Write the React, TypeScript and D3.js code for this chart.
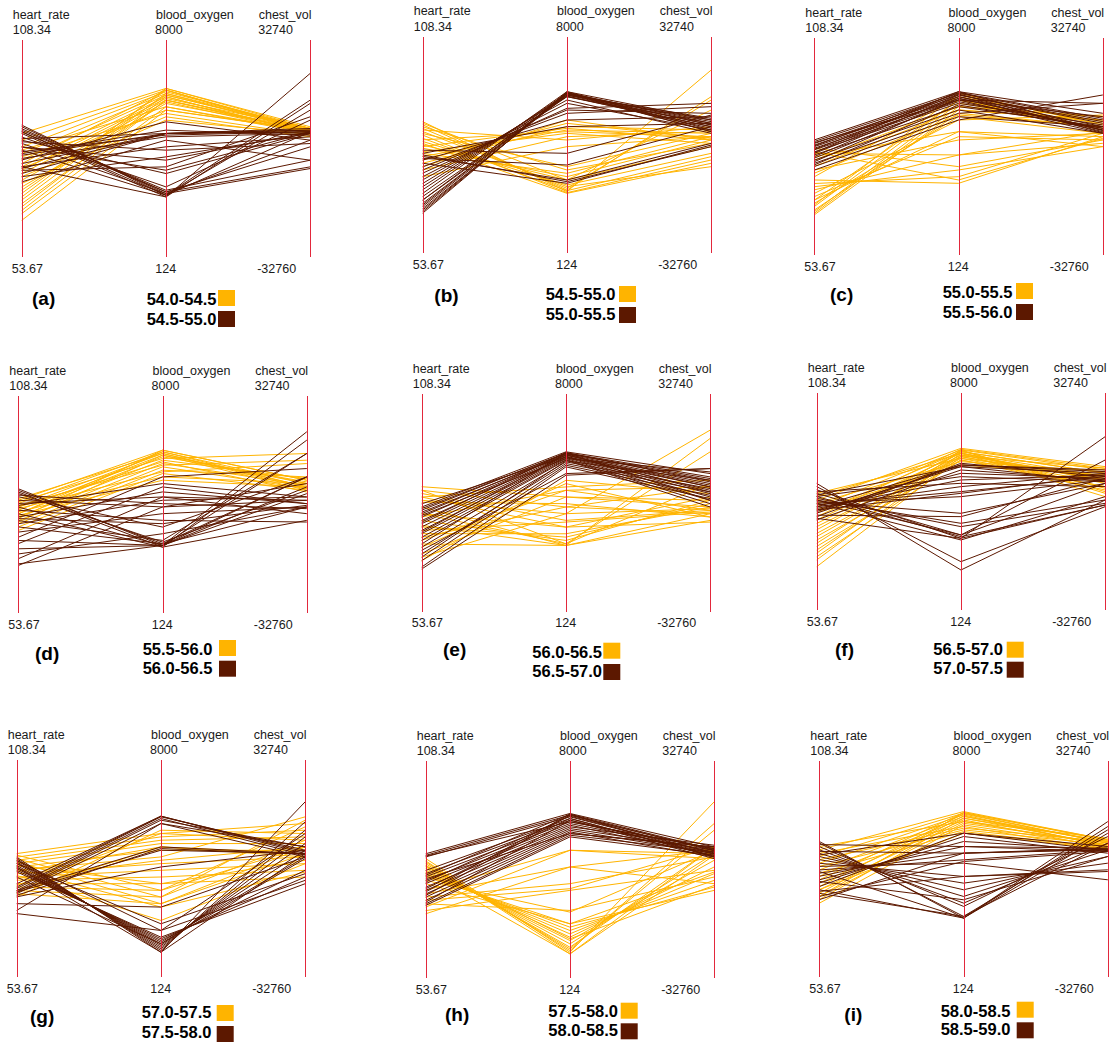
import React from 'react';
import * as d3 from 'd3';

// ---------- data ----------
const dimensions = ['heart_rate', 'blood_oxygen', 'chest_vol'];
const dimMax = [108.34, 8000, 32740];
const dimMin = [53.67, 124, -32760];
const maxLabels = ['108.34', '8000', '32740'];
const minLabels = ['53.67', '124', '-32760'];
const panelLetters = ['a', 'b', 'c', 'd', 'e', 'f', 'g', 'h', 'i'];
const rangeLabels = [
  ['54.0-54.5', '54.5-55.0'],
  ['54.5-55.0', '55.0-55.5'],
  ['55.0-55.5', '55.5-56.0'],
  ['55.5-56.0', '56.0-56.5'],
  ['56.0-56.5', '56.5-57.0'],
  ['56.5-57.0', '57.0-57.5'],
  ['57.0-57.5', '57.5-58.0'],
  ['57.5-58.0', '58.0-58.5'],
  ['58.0-58.5', '58.5-59.0'],
];

// each record: [heart_rate, blood_oxygen, chest_vol]
const panelA_first = [
  [84.8, 6243, 6036], [83.1, 6182, 5532], [81.4, 6122, 6036], [79.7, 6061, 5028], [78.1, 6001, 5532],
  [76.4, 5940, 4524], [75.5, 5879, 6036], [74.7, 5819, 5028], [73.0, 5758, 4524], [71.3, 5698, 5532],
  [69.7, 6182, 5028], [68.0, 6061, 6036], [66.3, 5940, 4524], [64.6, 5577, 5028], [62.9, 5455, 5532],
  [78.9, 5334, 4020], [73.9, 5213, 3516], [68.8, 6243, 6539], [67.1, 5819, 5532], [80.6, 5577, 4524],
  [77.2, 6182, 5028], [70.5, 6001, 6036], [65.4, 5819, 4726], [76.0, 5455, 5330], [72.2, 5092, 4322],
];
const panelA_second = [
  [86.9, 2366, 5028], [86.5, 2426, 2509], [86.0, 2487, 494], [85.6, 2547, -3538], [85.2, 2366, 14601],
  [84.8, 2305, 22663], [83.9, 2669, 8555], [83.1, 3153, 4524], [82.3, 2426, -6057], [81.4, 3638, 5028],
  [80.2, 4547, 5028], [79.3, 4607, 5532], [78.5, 4486, 4524], [78.1, 5031, 2509], [77.2, 4607, 5532],
  [76.4, 4123, 3516], [75.5, 3396, 9563], [74.7, 4607, 5028], [72.6, 4364, -3538], [76.4, 2305, 13593],
  [83.5, 4607, 6036], [82.7, 4001, 1493], [81.4, 3274, 5028], [79.7, 4728, 4020], [85.2, 2487, -5553],
  [73.9, 3759, 4524], [76.0, 4607, 5028], [80.6, 2366, 11578],
];
const panelB_first = [
  [86.9, 2366, 22663], [86.1, 2426, 14602], [85.2, 2487, 13594], [84.4, 2548, -6560], [83.5, 2329, -4545],
  [82.7, 2402, -3537], [81.9, 2608, -2529], [81.0, 2790, -514], [80.2, 2911, 1502], [78.9, 3032, 2509],
  [85.6, 3153, 494], [83.9, 3275, 3517], [82.3, 4547, 2509], [80.6, 4668, 1502], [78.1, 4607, 3517],
  [76.4, 4729, 4525], [74.7, 4365, 4021], [73.0, 4002, 2509], [84.8, 4244, 5532], [79.3, 4486, 494],
  [77.2, 4850, 2006], [86.5, 2790, 10571], [81.4, 2305, -5552], [75.5, 4971, 1502],
];
const panelB_second = [
  [63.8, 6001, 7548], [64.2, 5965, 6540], [64.6, 5940, 7044], [65.5, 5916, 6036], [66.3, 5880, 5532],
  [67.1, 5843, 5029], [68.0, 5819, 6540], [68.8, 6001, 4525], [69.7, 5940, 4021], [70.5, 5880, 7548],
  [71.3, 5819, 5532], [72.2, 5698, 3517], [73.9, 5395, 12586], [74.7, 5334, 9563], [75.5, 5213, 11579],
  [78.1, 2790, 494], [78.5, 2729, -514], [77.6, 3335, 5532], [77.2, 4971, 8556], [76.4, 2669, -10],
  [73.0, 5577, 4525], [67.1, 5965, 4021], [65.0, 5880, 8052], [78.9, 4729, 6540], [79.7, 3759, 9059],
  [65.9, 5940, 6036],
];
const panelC_first = [
  [63.8, 5394, 8052], [64.2, 5516, 9059], [64.6, 5637, 7044], [65.0, 5273, 6036], [65.9, 5758, 5029],
  [66.7, 5152, 4021], [67.5, 4607, 3013], [68.4, 4425, 2006], [69.2, 5031, 9563], [70.1, 3759, 998],
  [70.9, 3213, -10], [71.7, 2971, 4021], [72.6, 2729, 3013], [74.3, 5213, 6036], [76.0, 5394, 8052],
  [77.6, 5516, 9059], [79.3, 3759, 4525], [80.6, 3335, 2006], [78.5, 4607, -10], [73.4, 5879, 7548],
  [66.3, 6000, 6540], [67.5, 5758, 5533], [75.1, 4304, 4021], [79.7, 2850, 2510],
];
const panelC_second = [
  [82.7, 6061, 10067], [82.3, 6000, 8052], [81.8, 5940, 7044], [81.4, 5879, 6036], [81.0, 5818, 5029],
  [80.6, 5758, 4021], [80.2, 5697, 5533], [79.7, 5637, 6540], [79.3, 5879, 4525], [78.9, 5516, 6036],
  [78.5, 5940, 7548], [78.1, 5758, 9059], [77.6, 5394, 4021], [77.2, 5818, 5029], [76.8, 5273, 13090],
  [76.4, 5576, 5533], [75.1, 5031, 15610], [81.2, 6024, 8556], [80.3, 5976, 4223], [76.0, 5152, 6036],
  [82.0, 5758, 13090], [79.5, 6061, 4827],
];
const panelD_first = [
  [82.1, 6037, 7346], [81.3, 5977, 6338], [80.4, 5916, 5331], [79.6, 5856, 4323], [78.7, 5795, 6842],
  [77.9, 5674, 7849], [77.0, 5553, 5835], [76.2, 5432, 4826], [75.4, 5310, 8353], [74.5, 5189, 4323],
  [81.7, 5734, 15407], [80.8, 5492, 13392], [80.0, 5250, 12384], [79.2, 5068, 6338], [78.3, 4947, 5331],
  [82.5, 5916, 4826], [77.5, 6037, 7346], [76.6, 5856, 6338], [80.4, 5613, 3819], [78.7, 5977, 5331],
];
const panelD_second = [
  [85.0, 2584, 5331], [84.6, 2644, -716], [84.2, 2523, -4747], [83.8, 2705, 4323], [83.0, 3250, 8353],
  [82.1, 3978, 1299], [81.3, 4341, -2731], [80.4, 2584, 21957], [79.6, 3493, -5251], [78.7, 2523, 19438],
  [77.9, 4523, 292], [77.0, 2766, 15407], [76.2, 4220, 2307], [75.4, 2644, 8353], [74.1, 3735, -716],
  [72.8, 5068, 10873], [71.2, 4705, 292], [69.9, 2584, 3315], [68.6, 3008, -716], [67.4, 4341, 1299],
  [66.1, 2584, 15407], [65.7, 3978, 6338], [77.5, 3372, -212], [80.8, 4826, 2307], [83.4, 4099, -1220],
  [72.0, 2584, 8353],
];
const panelE_first = [
  [85.1, 4280, -1219], [84.2, 3917, -3234], [83.4, 3432, -2227], [82.5, 3189, -5754], [81.7, 3674, 21958],
  [80.0, 2523, 19439], [78.3, 2584, 15408], [76.6, 2705, 796], [75.0, 2826, -212], [73.3, 2947, -1219],
  [71.6, 4522, -2227], [69.9, 4765, -4242], [68.2, 4280, 796], [66.5, 4886, 2812], [84.2, 2584, 5835],
  [82.5, 4644, 6843], [75.4, 2523, -3234], [72.4, 3917, 4827], [78.3, 3189, 1804], [67.4, 3674, -1723],
  [81.2, 4038, -4242], [70.7, 2523, -5250], [77.5, 4522, 4827], [74.1, 3371, -2731],
];
const panelE_second = [
  [80.0, 5916, 8858], [79.2, 5879, 7850], [78.3, 5855, 6843], [77.5, 5831, 5835], [76.6, 5795, 4827],
  [75.8, 5758, 3819], [75.0, 5734, 2812], [74.1, 5710, 1804], [73.3, 5673, 796], [72.4, 5637, -212],
  [71.6, 5613, -1219], [69.9, 5552, 4323], [68.2, 5492, 3316], [66.5, 5431, 2308], [64.9, 5371, 1300],
  [64.4, 5068, 10370], [69.1, 5128, 10370], [79.6, 5855, 7346], [78.7, 5795, 5331], [76.2, 5892, 6339],
  [73.7, 5819, 3316], [80.8, 5734, 4827], [67.4, 5589, 6843], [77.9, 5673, 9362], [70.7, 5879, 796],
];
const panelF_first = [
  [81.4, 6001, 10570], [79.7, 5940, 9563], [78.1, 5880, 8555], [76.4, 5819, 7547], [74.7, 5759, 6540],
  [73.0, 5698, 5532], [71.3, 5637, 4524], [69.7, 5577, 3517], [68.0, 5940, 2509], [66.3, 5819, 1501],
  [64.6, 5698, 6540], [80.6, 5516, 9059], [78.9, 5395, 8051], [77.2, 5965, 10067], [75.5, 5843, 4020],
  [73.9, 5916, 3013], [72.2, 5759, 7044], [70.5, 5880, 8555], [68.8, 5722, 10067], [82.3, 5819, 6036],
  [67.1, 5577, 4524], [83.1, 5637, 7547],
];
const panelF_second = [
  [85.6, 1578, 494], [84.8, 1881, -1522], [84.0, 2729, 19640], [83.1, 2851, 12586], [82.3, 2790, -1018],
  [81.85, 3154, -514], [81.4, 3275, 494], [81.0, 3638, 5532], [80.6, 4244, 6540], [80.2, 4426, 7547],
  [79.7, 4608, 8555], [79.3, 4850, 8051], [78.9, 5092, 7044], [78.5, 5335, 6036], [78.1, 5395, 9563],
  [77.2, 5456, 7547], [76.4, 5213, 6540], [82.7, 5335, 8555], [83.5, 4729, 4524], [81.4, 2851, 5532],
  [79.7, 5395, 9059], [80.6, 2669, 1501], [82.3, 4971, 6036], [76.8, 2729, -1018], [78.9, 4365, 8051],
  [77.6, 3517, 7044],
];
const panelG_first = [
  [84.8, 5335, 13594], [83.9, 5214, 11579], [83.1, 5092, 9563], [82.3, 4971, 7548], [81.4, 4729, 5532],
  [80.6, 4487, 15609], [79.7, 4244, 3517], [78.9, 4002, 1502], [78.1, 3759, -514], [77.2, 3517, -2529],
  [76.4, 3275, 6540], [75.5, 3032, 8556], [74.7, 2790, 4525], [73.9, 5456, 10571], [84.4, 3275, 12586],
  [83.5, 3032, 14602], [82.7, 2790, 6540], [81.8, 3517, 2509], [80.2, 4850, 4525], [78.5, 4365, 6540],
  [76.8, 5335, 8556], [75.1, 4850, 3517], [81.0, 2669, -1018], [79.3, 2184, 1502],
];
const panelG_second = [
  [83.9, 1033, 20144], [83.5, 1094, 14098], [83.1, 1154, 11579], [82.7, 1215, 9563], [82.3, 1276, 7548],
  [81.8, 1336, 5532], [81.4, 1397, 3517], [81.0, 1457, -514], [80.6, 1518, -2529], [80.2, 1578, -4545],
  [83.1, 1821, -3537], [82.3, 2063, -1521], [76.4, 5965, 4525], [76.0, 5941, 5532], [75.5, 5880, 4021],
  [75.1, 5819, 6540], [74.7, 5698, 3517], [75.5, 4850, 4525], [75.1, 4729, 4525], [73.9, 4123, 5532],
  [72.2, 2669, 3517], [70.5, 5698, 6540], [69.7, 1821, 10571], [77.2, 5965, 5029], [74.3, 4789, 4323],
  [78.9, 1336, 3013], [81.4, 1033, 4525],
];
const panelH_first = [
  [83.8, 1069, 20446], [82.9, 1130, 13896], [82.5, 1190, 11881], [82.1, 1251, 6842], [81.7, 1372, 4827],
  [81.3, 1493, 2811], [80.8, 1614, 796], [80.4, 1735, -1219], [80.0, 1857, -3235], [79.6, 1978, -5250],
  [79.2, 2099, -6258], [78.3, 2523, 5834], [75.8, 4765, 4827], [74.9, 4159, 5834], [74.1, 3553, 3819],
  [73.3, 3371, 6842], [72.4, 2584, -2227], [71.6, 4765, 3315], [70.7, 3311, -212], [69.9, 4159, -4243],
  [83.2, 1009, 4323], [81.9, 1554, -4746], [80.2, 1009, 6842], [77.5, 2099, -715],
];
const panelH_second = [
  [85.0, 6098, 6842], [84.6, 6037, 5834], [84.2, 5977, 4827], [80.8, 5916, 3819], [80.0, 5855, 3315],
  [79.2, 5795, 6338], [78.3, 5734, 5331], [77.5, 5674, 4323], [76.6, 5613, 7346], [75.8, 5552, 5834],
  [74.9, 5492, 4827], [74.1, 5431, 3819], [73.3, 5371, 6842], [72.4, 5310, 5331], [72.0, 5250, 4323],
  [79.6, 6073, 6036], [77.9, 6001, 5029], [76.2, 5916, 4021], [74.5, 6037, 5633], [72.8, 5855, 4625],
  [84.4, 5795, 6338], [78.7, 5371, 6842], [75.4, 6073, 3819],
];
const panelI_first = [
  [85.9, 6158, 8857], [84.2, 6098, 7850], [82.5, 6037, 6842], [80.8, 5977, 8354], [79.2, 5916, 7346],
  [77.5, 5855, 6338], [75.8, 5795, 9361], [74.1, 5734, 7850], [72.4, 5674, 6842], [85.0, 5613, 5834],
  [83.4, 5552, 8354], [81.7, 5492, 7346], [80.0, 5431, 6338], [78.3, 6122, 8857], [76.6, 6073, 7850],
  [74.9, 6001, 6842], [73.3, 5916, 8354], [86.7, 5795, 7346], [75.8, 5371, 6036], [74.1, 6122, 8656],
];
const panelI_second = [
  [88.0, 2281, 14400], [87.6, 2342, 11881], [86.7, 2705, 9865], [85.9, 2826, 7850], [85.0, 3068, 5834],
  [84.2, 3311, 3819], [83.4, 3553, 1804], [82.5, 3796, -212], [81.7, 4280, -3235], [80.8, 4401, 5834],
  [80.0, 4644, 6338], [79.2, 4886, 5331], [78.3, 5068, 5834], [77.5, 5250, 4827], [76.6, 5371, 6842],
  [75.8, 2281, 10873], [74.9, 2342, 7850], [74.1, 4341, 5331], [73.3, 4644, 5834], [87.2, 4886, 6338],
  [85.5, 4644, 6036], [77.9, 2947, 3819], [75.4, 3796, -715], [84.6, 5371, 5633], [80.4, 2281, 12888],
];

const panelSeries = [
  [panelA_first, panelA_second],
  [panelB_first, panelB_second],
  [panelC_first, panelC_second],
  [panelD_first, panelD_second],
  [panelE_first, panelE_second],
  [panelF_first, panelF_second],
  [panelG_first, panelG_second],
  [panelH_first, panelH_second],
  [panelI_first, panelI_second],
];

// ---------- layout & style ----------
const seriesColors = ['#FFB400', '#5C1800'];
const axisColor = '#E2283C';
const FONT = '"Liberation Sans", Arial, Helvetica, sans-serif';

const panelLayout = [
  { x0: 21.7, top: 40, bot: 257, lx: 146.7, b1: 305, b2: 325, sqx: 218, s1: 290, s2: 311, px: 32, pb: 305 },
  { x0: 422.7, top: 36.7, bot: 253.3, lx: 545.7, b1: 300, b2: 320, sqx: 619, s1: 286, s2: 307, px: 434.3, pb: 302 },
  { x0: 814.3, top: 38.3, bot: 255, lx: 942.7, b1: 297.7, b2: 318, sqx: 1016, s1: 283, s2: 304, px: 830, pb: 301 },
  { x0: 18.3, top: 396, bot: 613.3, lx: 142.7, b1: 655, b2: 674, sqx: 219, s1: 640, s2: 660.7, px: 35, pb: 659.5 },
  { x0: 421.7, top: 394.3, bot: 611.7, lx: 532.3, b1: 658, b2: 677, sqx: 603.3, s1: 642.7, s2: 664, px: 443, pb: 656 },
  { x0: 816.7, top: 393.3, bot: 610, lx: 933.3, b1: 655, b2: 674.3, sqx: 1006.7, s1: 641.7, s2: 661.7, px: 835, pb: 655.5 },
  { x0: 16.7, top: 760, bot: 977.3, lx: 141.7, b1: 1018.3, b2: 1037.7, sqx: 216.7, s1: 1005, s2: 1026, px: 30, pb: 1022.5 },
  { x0: 425.7, top: 761, bot: 978.3, lx: 548.3, b1: 1016.7, b2: 1035.7, sqx: 620.7, s1: 1002.7, s2: 1023.3, px: 445, pb: 1021 },
  { x0: 819.3, top: 761, bot: 977.3, lx: 940.7, b1: 1016.7, b2: 1035, sqx: 1016.7, s1: 1001.7, s2: 1022.3, px: 844.3, pb: 1021 },
];
const AXIS_SPAN = 288.5;
const nameDx = [-9, -10, -51.5];
const maxDx = [-9, -11, -52];
const minDx = [-10, -10.7, -53];

function Panel({ idx }: { idx: number }) {
  const L = panelLayout[idx];
  const x = d3.scalePoint<string>().domain(dimensions).range([L.x0, L.x0 + AXIS_SPAN]);
  const ys = dimensions.map((_, i) =>
    d3.scaleLinear().domain([dimMin[i], dimMax[i]]).range([L.bot, L.top])
  );
  const line = d3
    .line<number>()
    .x((_, i) => x(dimensions[i]) as number)
    .y((v, i) => ys[i](v));
  const series = panelSeries[idx];
  return (
    <g>
      {dimensions.map((d, i) => {
        const ax = x(d) as number;
        return (
          <g key={d}>
            <text x={ax + nameDx[i]} y={L.top - 21.5} fontSize={12.5} fill="#1a1a1a" fontFamily={FONT}>{d}</text>
            <text x={ax + maxDx[i]} y={L.top - 6} fontSize={12.5} fill="#1a1a1a" fontFamily={FONT}>{maxLabels[i]}</text>
            <text x={ax + minDx[i]} y={L.bot + 15.5} fontSize={12.5} fill="#1a1a1a" fontFamily={FONT}>{minLabels[i]}</text>
          </g>
        );
      })}
      {series.map((rows, si) => (
        <g key={si} fill="none" stroke={seriesColors[si]} strokeWidth={1}>
          {rows.map((r, ri) => (
            <path key={ri} d={line(r) || ''} />
          ))}
        </g>
      ))}
      {dimensions.map((d) => {
        const ax = Math.round(x(d) as number) + 0.5;
        return (
          <line key={'ax' + d} x1={ax} x2={ax} y1={L.top} y2={L.bot} stroke={axisColor} strokeWidth={1} shapeRendering="crispEdges" />
        );
      })}
      <text x={L.px} y={L.pb} fontSize={19} fontWeight="bold" fill="#000" fontFamily={FONT}>({panelLetters[idx]})</text>
      <text x={L.lx} y={L.b1} fontSize={16.5} fontWeight="bold" fill="#000" fontFamily={FONT}>{rangeLabels[idx][0]}</text>
      <text x={L.lx} y={L.b2} fontSize={16.5} fontWeight="bold" fill="#000" fontFamily={FONT}>{rangeLabels[idx][1]}</text>
      <rect x={L.sqx} y={L.s1} width={17} height={16} fill={seriesColors[0]} />
      <rect x={L.sqx} y={L.s2} width={17} height={16} fill={seriesColors[1]} />
    </g>
  );
}

export default function App() {
  return (
    <svg
      width={1115}
      height={1044}
      viewBox="0 0 1115 1044"
      style={{ position: 'absolute', left: 0, top: 0, background: '#fff' }}
    >
      <rect x={0} y={0} width={1115} height={1044} fill="#fff" />
      {panelLayout.map((_, i) => (
        <Panel key={i} idx={i} />
      ))}
    </svg>
  );
}
